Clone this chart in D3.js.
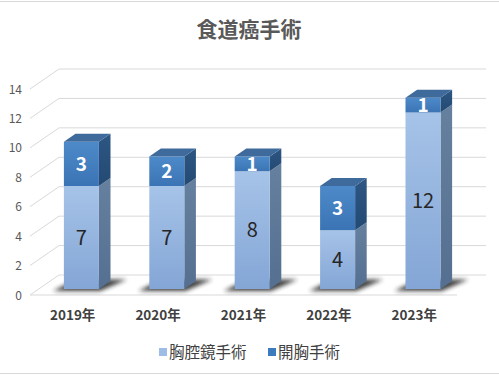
<!DOCTYPE html>
<html>
<head>
<meta charset="utf-8">
<script src="https://cdn.jsdelivr.net/npm/d3@7"></script>
<style>
  body { margin: 0; background: #fff; }
  svg { display: block; }
  text { font-family: "Noto Sans CJK JP", "Noto Sans", sans-serif; }
</style>
</head>
<body>
<svg id="chart" width="499" height="375"></svg>
<script>
var years = ["2019年", "2020年", "2021年", "2022年", "2023年"];
var thoraco = [7, 7, 8, 4, 12];   // 胸腔鏡手術
var open = [3, 2, 1, 3, 1];       // 開胸手術
var seriesNames = ["胸腔鏡手術", "開胸手術"];
var yTicks = [0, 2, 4, 6, 8, 10, 12, 14];

var W = 499, H = 375;
var svg = d3.select("#chart");

// depth of the 3d box (front plane -> back wall)
var DX = 29, DY = 20;
var z0 = 0.3, z1 = 0.7;

var x = d3.scaleBand().domain(years).range([30, 457]).padding(0);
var y = d3.scaleLinear().domain([0, 14]).range([295, 89]);

function pt(xf, v, z) {
  return [xf + z * DX, y(v) - z * DY];
}

// frame lines top and bottom
svg.append("line").attr("x1", 0).attr("x2", W).attr("y1", 1.5).attr("y2", 1.5)
  .attr("stroke", "#d9d9d9").attr("stroke-width", 1);
svg.append("line").attr("x1", 0).attr("x2", W).attr("y1", 373.5).attr("y2", 373.5)
  .attr("stroke", "#d9d9d9").attr("stroke-width", 1);

// title
svg.append("text")
  .attr("x", 249).attr("y", 37)
  .attr("text-anchor", "middle")
  .attr("font-size", 21).attr("font-weight", "bold")
  .attr("fill", "#595959")
  .text("食道癌手術");

var defs = svg.append("defs");
defs.append("filter").attr("id", "blur").attr("x", "-50%").attr("y", "-50%")
  .attr("width", "200%").attr("height", "200%")
  .append("feGaussianBlur").attr("stdDeviation", 2.2);

function grad(id, c0, c1) {
  var g = defs.append("linearGradient").attr("id", id)
    .attr("x1", 0).attr("y1", 0).attr("x2", 0).attr("y2", 1);
  g.append("stop").attr("offset", "0%").attr("stop-color", c0);
  g.append("stop").attr("offset", "100%").attr("stop-color", c1);
}
grad("lightFront", "#a6c3e8", "#84a6d6");
grad("lightSide", "#66809f", "#546f90");
grad("darkFront", "#4d8ac9", "#3b74b4");
grad("darkSide", "#2d5683", "#244a73");

var xLeft = x.range()[0], xRight = x.range()[1];

// gridlines: back wall + left side wall
var grid = svg.append("g");
yTicks.forEach(function(v) {
  var a = pt(xLeft, v, 0), b = pt(xLeft, v, 1), c = pt(xRight, v, 1);
  grid.append("polyline")
    .attr("points", [a, b, c].map(function(p) { return p.join(","); }).join(" "))
    .attr("fill", "none").attr("stroke", "#d9d9d9").attr("stroke-width", 1);
});
// floor front edge
var f0 = pt(xLeft, 0, 0), f1 = pt(xRight, 0, 0);
grid.append("line")
  .attr("x1", f0[0]).attr("y1", f0[1]).attr("x2", f1[0]).attr("y2", f1[1])
  .attr("stroke", "#d9d9d9").attr("stroke-width", 1);

// y labels
svg.append("g").selectAll("text").data(yTicks).enter().append("text")
  .attr("x", 22).attr("y", function(d) { return y(d) + 4.5; })
  .attr("text-anchor", "end")
  .attr("font-size", 12).attr("fill", "#595959")
  .text(function(d) { return d; });

// x labels
svg.append("g").selectAll("text").data(years).enter().append("text")
  .attr("x", function(d) { return x(d) + x.bandwidth() / 2; })
  .attr("y", 320)
  .attr("text-anchor", "middle")
  .attr("font-size", 13.5).attr("font-weight", "bold").attr("fill", "#404040")
  .text(function(d) { return d; });

var bw = x.bandwidth() * 0.41;

function poly(g, pts, fill) {
  g.append("polygon")
    .attr("points", pts.map(function(p) { return p.join(","); }).join(" "))
    .attr("fill", fill);
}

var bars = svg.append("g");
years.forEach(function(yr, i) {
  var cx = x(yr) + x.bandwidth() / 2;
  var bx0 = cx - bw / 2, bx1 = cx + bw / 2;
  var g = bars.append("g");

  // shadow on the floor
  g.append("polygon")
    .attr("points", [pt(bx0 - 8, 0, 0.2), pt(bx1 + 4, 0, 0.2), pt(bx1 + 14, 0, 0.78), pt(bx0 - 2, 0, 0.78)]
      .map(function(p) { return p.join(","); }).join(" "))
    .attr("fill", "#222").attr("opacity", 0.85).attr("filter", "url(#blur)");

  var segs = [
    { v0: 0, v1: thoraco[i], front: "url(#lightFront)", side: "url(#lightSide)", top: "#7d9cc8", label: "#262626", fs: 20, fw: "normal", val: thoraco[i] },
    { v0: thoraco[i], v1: thoraco[i] + open[i], front: "url(#darkFront)", side: "url(#darkSide)", top: "#3f6a9c", label: "#ffffff", fs: 19, fw: "bold", val: open[i] }
  ];
  segs.forEach(function(s, k) {
    var a = pt(bx0, s.v1, z0), b = pt(bx1, s.v1, z0), c = pt(bx1, s.v0, z0), d = pt(bx0, s.v0, z0);
    poly(g, [pt(bx1, s.v0, z0), pt(bx1, s.v0, z1), pt(bx1, s.v1, z1), pt(bx1, s.v1, z0)], s.side);
    poly(g, [a, b, c, d], s.front);
    if (k === segs.length - 1) {
      poly(g, [pt(bx0, s.v1, z0), pt(bx1, s.v1, z0), pt(bx1, s.v1, z1), pt(bx0, s.v1, z1)], s.top);
    }
    g.append("text")
      .attr("x", (a[0] + b[0]) / 2)
      .attr("y", (a[1] + d[1]) / 2 + s.fs * 0.36)
      .attr("text-anchor", "middle")
      .attr("font-family", "'Open Sans', 'Noto Sans', sans-serif")
      .attr("font-size", s.fs).attr("font-weight", s.fw)
      .attr("fill", s.label)
      .text(s.val);
  });
});

// legend
var legendColors = ["#9dbde6", "#3d7bbf"];
var lg = svg.append("g");
var lx = [159, 268];
seriesNames.forEach(function(n, i) {
  lg.append("rect").attr("x", lx[i]).attr("y", 348).attr("width", 8).attr("height", 8)
    .attr("fill", legendColors[i]);
  lg.append("text").attr("x", lx[i] + 10).attr("y", 357.5)
    .attr("font-size", 15.5).attr("fill", "#404040")
    .text(n);
});
</script>
</body>
</html>
